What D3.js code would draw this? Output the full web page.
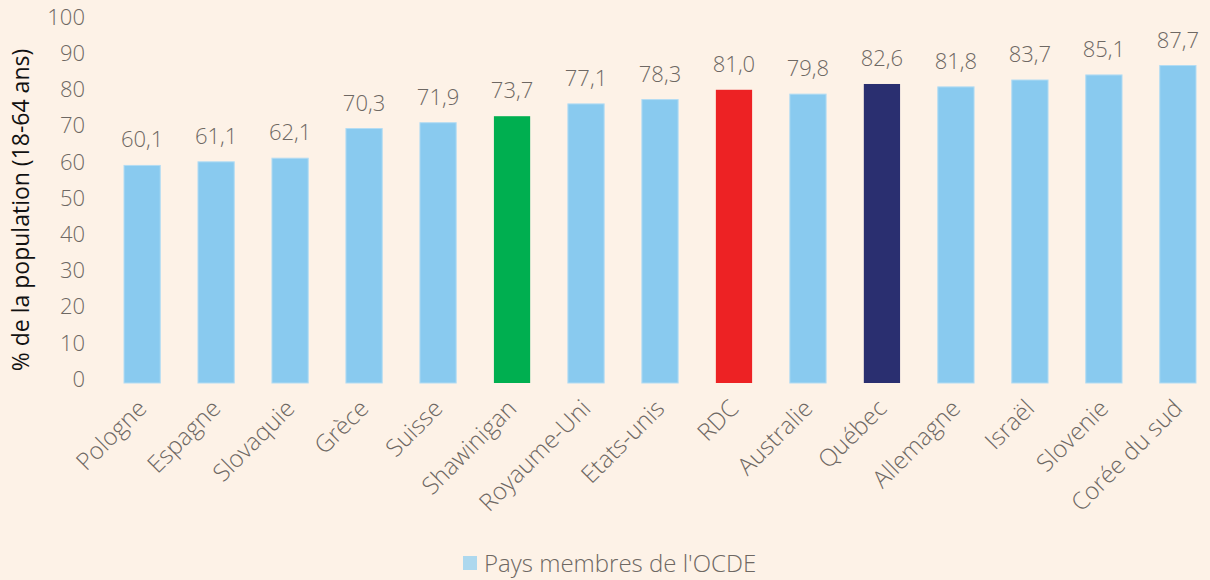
<!DOCTYPE html>
<html>
<head>
<meta charset="utf-8">
<script src="https://cdn.jsdelivr.net/npm/d3@7"></script>
<style>
  body { margin: 0; background: #fdf2e7; }
  svg { display: block; font-family: "Open Sans", sans-serif; }
</style>
</head>
<body>
<svg id="chart" width="1210" height="580"></svg>
<script>
// data
const pays = ["Pologne", "Espagne", "Slovaquie", "Grèce", "Suisse", "Shawinigan", "Royaume-Uni",
  "Etats-unis", "RDC", "Australie", "Québec", "Allemagne", "Israël", "Slovenie", "Corée du sud"]
const valeurs = [60.1, 61.1, 62.1, 70.3, 71.9, 73.7, 77.1, 78.3, 81.0, 79.8, 82.6, 81.8, 83.7, 85.1, 87.7]
const yTicks = [0, 10, 20, 30, 40, 50, 60, 70, 80, 90, 100]
const couleurs = { "Shawinigan": "#00af50", "RDC": "#ed2224", "Québec": "#2a2f70" }
const couleurOCDE = "#89caef"
const legende = "Pays membres de l'OCDE"
const titreY = "% de la population (18-64 ans)"

const svg = d3.select("#chart")
const gris = "#6e6863"

let x = d3.scaleBand().domain(pays).range([124, 1196]).paddingInner(0.51).paddingOuter(0)
let y = d3.scaleLinear().domain([0, 100]).range([383, 21])

// y axis labels (no line)
svg.append("g").selectAll("text").data(yTicks).enter().append("text")
  .attr("x", 85).attr("y", d => y(d) - 4).attr("dy", "0.35em")
  .attr("text-anchor", "end")
  .style("font-size", "22px").style("font-weight", 300).style("fill", gris)
  .text(d => d)

svg.append("text")
  .attr("transform", "translate(29,210) rotate(-90)")
  .attr("text-anchor", "middle")
  .style("font-size", "23px").style("font-weight", 500).style("fill", "#111")
  .text(titreY)

// bars
svg.append("g").selectAll(".bar").data(pays).enter().append("rect").classed("bar", true)
  .attr("x", d => x(d))
  .attr("width", x.bandwidth())
  .attr("y", (d, i) => y(valeurs[i]))
  .attr("height", (d, i) => y(0) - y(valeurs[i]))
  .style("fill", d => couleurs[d] || couleurOCDE)
  .style("stroke", d => couleurs[d] ? "none" : "#b3dcf3")
  .style("stroke-width", 1)

// value labels
svg.append("g").selectAll("text").data(pays).enter().append("text")
  .attr("x", d => x(d) + x.bandwidth() / 2)
  .attr("y", (d, i) => y(valeurs[i]) - 18)
  .attr("text-anchor", "middle")
  .style("font-size", "22px").style("font-weight", 300).style("fill", gris)
  .text((d, i) => valeurs[i].toFixed(1).replace(".", ","))

// category labels
svg.append("g").selectAll("text").data(pays).enter().append("text")
  .attr("transform", d => "translate(" + (x(d) + x.bandwidth() / 2 + 6) + ",410) rotate(-45)")
  .attr("text-anchor", "end")
  .style("font-size", "24px").style("font-weight", 300).style("fill", gris)
  .text(d => d)

// legend
svg.append("rect").attr("x", 463).attr("y", 556).attr("width", 14).attr("height", 14)
  .style("fill", "#add8ee")
svg.append("text").attr("x", 484).attr("y", 572)
  .style("font-size", "24px").style("font-weight", 300).style("fill", gris)
  .text(legende)
</script>
</body>
</html>
